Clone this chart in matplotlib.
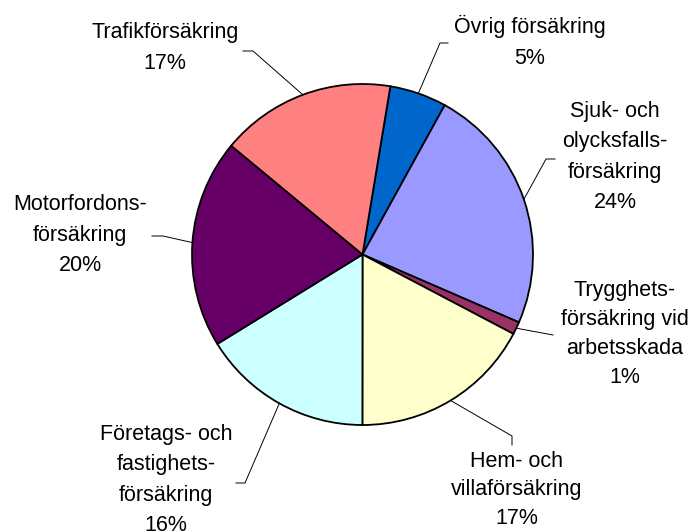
import numpy as np
from matplotlib import pyplot as plt

# slices in clockwise order, starting just right of 12 o'clock
labels = ["Övrig försäkring", "Sjuk- och\nolycksfalls-\nförsäkring",
          "Trygghets-\nförsäkring vid\narbetsskada", "Hem- och\nvillaförsäkring",
          "Företags- och\nfastighets-\nförsäkring", "Motorfordons-\nförsäkring",
          "Trafikförsäkring"]
shares = [5.4, 23.5, 1.2, 17.3, 16.2, 19.8, 16.6]
colors = ["#0066CC", "#9999FF", "#993366", "#FFFFCC", "#CCFFFF", "#660066", "#FF8080"]

# label block centres and leader line elbows (pixels, image coords: y down)
label_pos = [(530, 42), (615, 157), (625, 334), (517, 490), (166, 480), (80, 235), (165, 48)]
spacing = [1.58, 1.58, 1.5, 1.45, 1.58, 1.58, 1.58]
elbows = [[(440, 43), (448, 43)],
          [(546, 159), (555, 159)],
          [(553, 335)],
          [(512, 436), (512, 445)],
          [(245, 483), (236, 483)],
          [(163, 236), (152, 236)],
          [(253, 51), (243, 51)]]

W, H = 693, 532
cx, cy, r = 362.5, 254.5, 170.5

fig = plt.figure(figsize=(W / 100, H / 100), dpi=100)
ax = fig.add_axes([0, 0, 1, 1])
ax.axis("off")

wedges, _ = ax.pie(shares, colors=colors, startangle=80.6, counterclock=False,
                   center=(cx, H - cy), radius=r,
                   wedgeprops=dict(edgecolor="black", linewidth=1.3))
ax.set_xlim(0, W)
ax.set_ylim(0, H)
ax.set_aspect("equal")

for w, lab, val, pos, ls, elb in zip(wedges, labels, shares, label_pos, spacing, elbows):
    mid = np.deg2rad((w.theta1 + w.theta2) / 2)
    x0 = cx + r * np.cos(mid)
    y0 = (H - cy) + r * np.sin(mid)
    xs = [x0] + [p[0] for p in elb]
    ys = [y0] + [H - p[1] for p in elb]
    ax.plot(xs, ys, color="black", linewidth=0.7)
    ax.text(pos[0], H - pos[1], "%s\n%.0f%%" % (lab, val), ha="center", va="center",
            fontsize=15.5, family="Liberation Sans", linespacing=ls)

plt.savefig("out.png", dpi=100)
